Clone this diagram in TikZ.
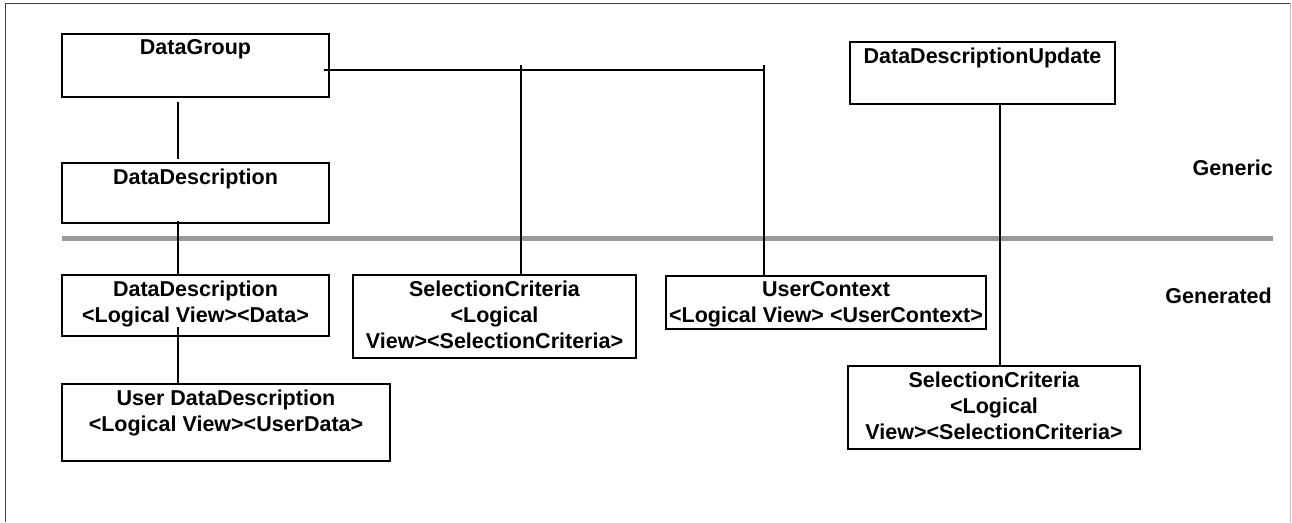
\documentclass[tikz,border=0pt]{standalone}
\usepackage{fontspec}
\setmainfont{Liberation Sans}
\begin{document}
\begin{tikzpicture}[x=1pt,y=-1pt,
  every node/.style={font=\bfseries\fontsize{21.5}{26}\selectfont},
  box/.style={draw=black, line width=1.7pt, inner sep=0pt, fill=white},
  title/.style={anchor=north, inner sep=0pt, yshift=-6.5pt, align=center},
  link/.style={draw=black, line width=1.7pt},
  layer/.style={draw=black!40, line width=5pt},
  frame/.style={draw=black!75, line width=0.8pt},
  tag/.style={anchor=base east, inner sep=0pt}]

\useasboundingbox (0,0) rectangle (1292,522);

% outer frame
\draw[frame] (5,522) -- (5,3) -- (1290,3);
\draw[frame, draw=black!25] (1290,3) -- (1290,522);

% separator between the two layers
\coordinate (sepL) at (62,238.5);
\coordinate (sepR) at (1273,238.5);
\draw[layer] (sepL) -- (sepR);

% layer names
\node[tag] (generic) at (1273,175) {Generic};
\node[tag] (generated) at (1272,303) {Generated};

% generic classes
\node[box, minimum width=267pt, minimum height=63pt,
      label={[title]north:DataGroup}] (dg) at (195.5,65.5) {};
\node[box, minimum width=267pt, minimum height=60pt,
      label={[title]north:DataDescription}] (dd) at (195.5,193) {};
\node[box, minimum width=265pt, minimum height=62pt,
      label={[title]north:DataDescriptionUpdate}] (ddu) at (982.5,73) {};

% generated classes
\node[box, minimum width=267pt, minimum height=61pt,
      label={[title]north:DataDescription\\<Logical View><Data>}] (ddl) at (195.5,305.5) {};
\node[box, minimum width=328pt, minimum height=77pt,
      label={[title]north:User DataDescription\\<Logical View><UserData>}] (udd) at (226,422.5) {};
\node[box, minimum width=283pt, minimum height=83pt,
      label={[title]north:SelectionCriteria\\<Logical\\View><SelectionCriteria>}] (scm) at (494.5,316.5) {};
\node[box, minimum width=320pt, minimum height=53pt,
      label={[title]north:UserContext\\<Logical View> <UserContext>}] (uc) at (826,302.5) {};
\node[box, minimum width=292pt, minimum height=83pt,
      label={[title]north:SelectionCriteria\\<Logical\\View><SelectionCriteria>}] (scr) at (994,407.5) {};

% connectors
\coordinate (branchA) at (521,65);
\coordinate (branchB) at (764,65);
\coordinate (busEnd) at (764,70);

\draw[link] ([xshift=-17.5pt,yshift=-4pt]dg.south) -- ([xshift=-17.5pt,yshift=3pt]dd.north);
\draw[link] ([xshift=-17.5pt,yshift=3pt]dd.south) -- ([xshift=-17.5pt]ddl.north);
\draw[link] ([xshift=-17.5pt,yshift=10pt]ddl.south) -- ([xshift=-48pt]udd.north);
\draw[link] ([xshift=-6pt,yshift=-4.5pt]dg.east) -- (busEnd);
\draw[link] (branchA) -- ([xshift=26.5pt]scm.north);
\draw[link] (branchB) -- ([xshift=-62pt,yshift=-2pt]uc.north);
\draw[link] ([xshift=17.5pt]ddu.south) -- ([xshift=6pt]scr.north);

\end{tikzpicture}
\end{document}
